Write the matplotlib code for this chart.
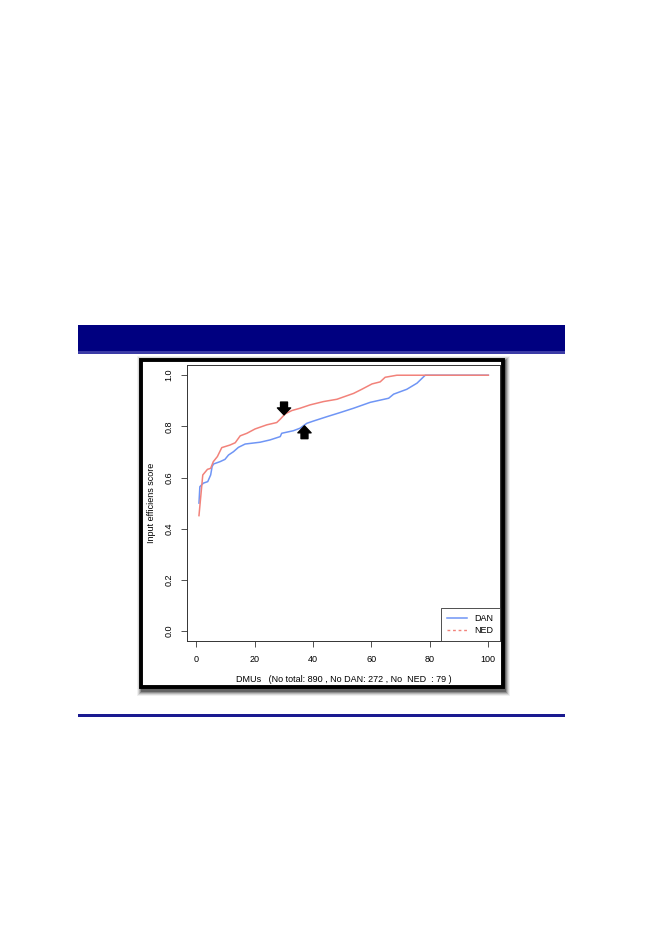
import numpy as np
import matplotlib.pyplot as plt
from matplotlib.patches import Rectangle

plt.rcParams['font.family'] = ['Liberation Sans', 'DejaVu Sans']

# efficiency scores (x = DMU percentile)
dan_x = [1, 1.3, 2.5, 4, 5, 5.5, 6, 8.2, 9.9, 11.1, 12.8, 14.5, 16.8, 21.9, 25.3, 28.8, 29.3,
         33.3, 35.6, 37.9, 40.2, 44.8, 49.3, 53.9, 59.6, 65.9, 67.6, 72.1, 75.6, 78.4, 100]
dan_y = [0.50, 0.564, 0.578, 0.584, 0.61, 0.643, 0.653, 0.662, 0.671, 0.688, 0.701, 0.718, 0.731,
         0.738, 0.747, 0.76, 0.773, 0.783, 0.793, 0.812, 0.821, 0.838, 0.854, 0.871, 0.894, 0.91,
         0.926, 0.945, 0.969, 1.0, 1.0]
ned_x = [1, 2.3, 3.9, 5.0, 5.9, 7.3, 8.8, 11.6, 13.4, 15.1, 17.4, 20.2, 24.2, 27.6, 28.8, 30.5,
         32.8, 35.6, 39, 43.6, 48.2, 53.9, 56.7, 60.2, 63, 64.7, 68.7, 100]
ned_y = [0.451, 0.61, 0.632, 0.636, 0.662, 0.682, 0.717, 0.727, 0.736, 0.763, 0.773, 0.79, 0.806,
         0.815, 0.828, 0.849, 0.862, 0.871, 0.884, 0.897, 0.906, 0.929, 0.945, 0.966, 0.974, 0.992,
         1.0, 1.0]
xticks = [0, 20, 40, 60, 80, 100]
yticks = [0.0, 0.2, 0.4, 0.6, 0.8, 1.0]
# arrows: (x, tail, head)
arrows = [(30.1, 0.895, 0.845), (37.1, 0.752, 0.802)]

W, H = 661, 933
fig = plt.figure(figsize=(W / 100, H / 100), dpi=100)

def box(x0, y0, x1, y1, **kw):
    # pixel coords from top-left
    r = Rectangle((x0 / W, 1 - y1 / H), (x1 - x0) / W, (y1 - y0) / H,
                  transform=fig.transFigure, **kw)
    fig.patches.append(r)

# navy banner and rule
box(78, 325, 565, 352, facecolor='#000080', edgecolor='none')
box(78, 351.5, 565, 354, facecolor='#3b3ba6', edgecolor='none')
box(78, 713.5, 565, 716.5, facecolor='#1a1a90', edgecolor='none')

# chart frame with soft shadow
for i, a in enumerate([0.06, 0.1, 0.15, 0.22, 0.3]):
    d = 5 - i
    box(141 + 1 - d, 360 + 1 - d, 503 + 2 + d, 687 + 4 + d, facecolor='black', alpha=a,
        edgecolor='none')
box(141, 360, 503, 687, facecolor='white', edgecolor='black', linewidth=2.8)

ax = fig.add_axes([187.4 / W, 1 - 641.2 / H, (499.9 - 187.4) / W, (641.2 - 365) / H])
ax.set_zorder(5)
ax.patch.set_alpha(0)
ax.plot(dan_x, dan_y, color='#6f95f5', lw=1.1, label='DAN')
ax.plot(ned_x, ned_y, color='#f2827a', lw=1.1)
ax.plot([], [], color='#f2827a', lw=1.0, ls=(0, (2, 2)), label='NED')

for x, t, h in arrows:
    ax.annotate('', xy=(x, h), xytext=(x, t),
                arrowprops=dict(arrowstyle='simple,head_length=0.5,head_width=0.95,tail_width=0.5',
                                color='black', shrinkA=0, shrinkB=0))

ax.set_xlim(-2.96, 103.96)
ax.set_ylim(-0.04, 1.04)
ax.set_xticks(xticks)
ax.set_yticks(yticks)
ax.set_xticklabels([str(v) for v in xticks])
ax.set_yticklabels(['%.1f' % v for v in yticks], rotation=90, va='center')
ax.tick_params(labelsize=6.5, length=4, width=0.6, color='#333333', pad=6)
for s in ax.spines.values():
    s.set_linewidth(0.7)
    s.set_color('#333333')
ax.set_ylabel('Input efficiens score', fontsize=6.5, labelpad=6)
ax.set_xlabel('DMUs   (No total: 890 , No DAN: 272 , No  NED  : 79 )', fontsize=6.5, labelpad=8)

leg = ax.legend(loc='lower right', fontsize=6.5, frameon=True, fancybox=False,
                edgecolor='#333333', framealpha=1, borderaxespad=0, handlelength=2.2,
                borderpad=0.7, labelspacing=0.3)
leg.get_frame().set_linewidth(0.6)

fig.savefig('out.png', dpi=100)
